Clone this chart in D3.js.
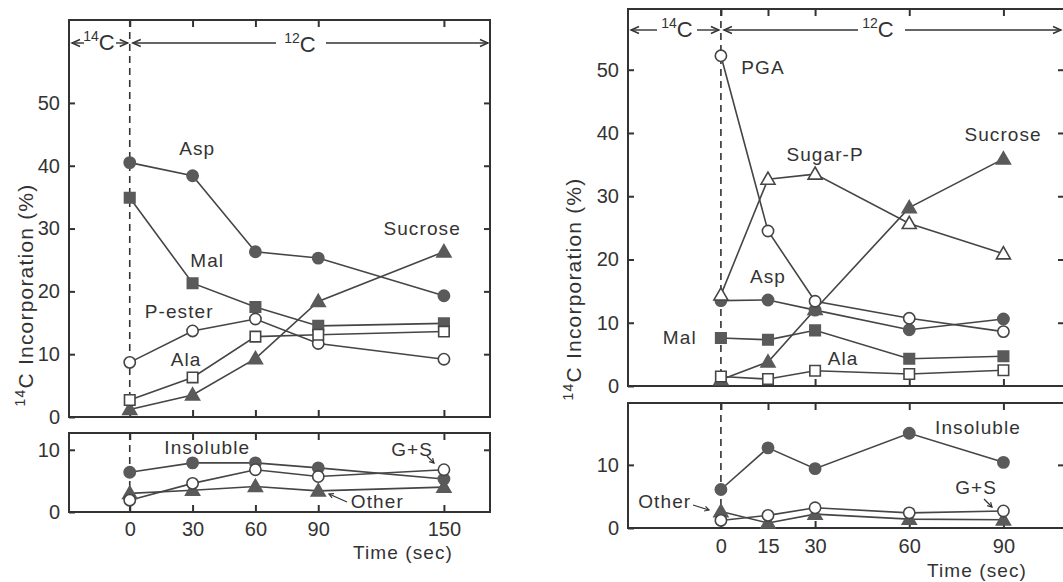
<!DOCTYPE html>
<html>
<head>
<meta charset="utf-8">
<script src="https://cdn.jsdelivr.net/npm/d3@7"></script>
<style>
  body { margin: 0; background: #fff; }
  svg { display: block; }
  text { font-family: "Liberation Sans", Arial, sans-serif; fill: #333; }
</style>
</head>
<body>
<svg id="chart" width="1063" height="582"></svg>
<script>
// ---------- Data ----------
const timesL = [0, 30, 60, 90, 150];
const aspL = [40.5, 38.4, 26.3, 25.3, 19.3];
const malL = [34.9, 21.3, 17.5, 14.5, 14.9];
const sucroseL = [1.2, 3.5, 9.3, 18.4, 26.3];
const pesterL = [8.7, 13.7, 15.6, 11.7, 9.2];
const alaL = [2.7, 6.3, 12.8, 13.1, 13.6];
const insolubleL = [6.4, 7.9, 7.9, 7.1, 5.3];
const gsL = [1.9, 4.6, 6.8, 5.7, 6.8];
const otherL = [3.0, 3.5, 4.1, 3.4, 4.0];

const timesR = [0, 15, 30, 60, 90];
const pgaR = [52.2, 24.5, 13.4, 10.7, 8.6];
const sugarPR = [14.4, 32.7, 33.5, 25.7, 20.9];
const sucroseR = [1.0, 3.8, 12.1, 28.2, 35.9];
const aspR = [13.5, 13.6, 12.0, 8.9, 10.6];
const malR = [7.6, 7.3, 8.8, 4.3, 4.7];
const alaR = [1.5, 1.1, 2.4, 1.9, 2.5];
const insolubleR = [6.1, 12.7, 9.4, 15.0, 10.4];
const gsR = [1.2, 2.0, 3.2, 2.4, 2.7];
const otherR = [2.6, 0.8, 2.2, 1.4, 1.3];

const yTicksTop = [0, 10, 20, 30, 40, 50];
const yTicksBottom = [0, 10];
const xLabel = "Time (sec)";
const yLabel = "Incorporation (%)";

// ---------- Drawing ----------
const svg = d3.select("#chart");
const LINE = "#454545", FILL = "#5a5a5a", FRAME = "#333";
const FONT = 19;

function symbolPath(kind) {
  if (kind === "circle") return d3.symbol(d3.symbolCircle, 100)();
  if (kind === "square") return d3.symbol(d3.symbolSquare, 110)();
  return d3.symbol(d3.symbolTriangle, 85)();
}

function drawSeries(g, x, y, times, vals, kind, filled) {
  const pts = times.map((t, i) => [t, vals[i]]);
  g.append("path")
    .datum(pts)
    .attr("fill", "none")
    .attr("stroke", LINE)
    .attr("stroke-width", 1.6)
    .attr("d", d3.line().x(d => x(d[0])).y(d => y(d[1])));
  return () => {
    g.selectAll(null).data(pts).enter().append("path")
      .attr("transform", d => `translate(${x(d[0])},${y(d[1]) + (kind === "triangle" ? 1 : 0)})`)
      .attr("d", symbolPath(kind))
      .attr("fill", filled ? FILL : "#fff")
      .attr("stroke", filled ? FILL : LINE)
      .attr("stroke-width", 1.6);
  };
}

function frameAxes(g, x, y, xTicks, yTicks, left, right, top, bottom, showX, xPad) {
  g.append("rect").attr("x", left).attr("y", top)
    .attr("width", right - left).attr("height", bottom - top)
    .attr("fill", "none").attr("stroke", FRAME).attr("stroke-width", 2);
  const ax = [];
  ax.push(g.append("g").attr("transform", `translate(${left},0)`)
    .call(d3.axisLeft(y).tickValues(yTicks).tickSize(-6).tickPadding(9)));
  ax.push(g.append("g").attr("transform", `translate(${right},0)`)
    .call(d3.axisRight(y).tickValues(yTicks.filter(v => v > 0)).tickSize(-6).tickFormat("")));
  ax.push(g.append("g").attr("transform", `translate(0,${top})`)
    .call(d3.axisTop(x).tickValues(xTicks).tickSize(-7).tickFormat("")));
  const b = g.append("g").attr("transform", `translate(0,${bottom})`)
    .call(d3.axisBottom(x).tickValues(xTicks).tickSize(-7).tickPadding(xPad));
  if (!showX) b.selectAll("text").remove();
  ax.push(b);
  ax.forEach(a => {
    a.select(".domain").remove();
    a.selectAll(".tick line").attr("stroke", FRAME).attr("stroke-width", 2);
    a.selectAll("text").attr("font-size", 20).attr("fill", "#333")
      .attr("font-family", "Liberation Sans, Arial, sans-serif");
  });
}

function dashed(g, x, y0, y1) {
  g.append("line").attr("x1", x).attr("x2", x).attr("y1", y0).attr("y2", y1)
    .attr("stroke", FRAME).attr("stroke-width", 1.6).attr("stroke-dasharray", "7,5");
}

function arrow(g, xFrom, xTip, y) {
  g.append("line").attr("x1", xFrom).attr("x2", xTip).attr("y1", y).attr("y2", y)
    .attr("stroke", FRAME).attr("stroke-width", 1.4);
  const dir = xTip > xFrom ? -1 : 1;
  g.append("path")
    .attr("d", `M${xTip + dir * 8},${y - 3.5} L${xTip},${y} L${xTip + dir * 8},${y + 3.5}`)
    .attr("fill", "none").attr("stroke", FRAME).attr("stroke-width", 1.4);
}

function isoLabel(g, xc, yBase, mass) {
  const t = g.append("text").attr("x", xc).attr("y", yBase).attr("text-anchor", "middle");
  t.append("tspan").attr("font-size", 14).attr("dy", -9).text(mass);
  t.append("tspan").attr("font-size", 22).attr("dy", 9).text("C");
}

function label(g, x, y, t, v, text) {
  g.append("text").attr("x", x(t)).attr("y", y(v)).attr("text-anchor", "middle")
    .attr("font-size", FONT).attr("letter-spacing", 1.1).text(text);
}

function smallArrow(g, x1, y1, x2, y2) {
  g.append("line").attr("x1", x1).attr("y1", y1).attr("x2", x2).attr("y2", y2)
    .attr("stroke", FRAME).attr("stroke-width", 1.2);
  const a = Math.atan2(y2 - y1, x2 - x1);
  const h = 5;
  g.append("path")
    .attr("d", `M${x2 - h * Math.cos(a - 0.5)},${y2 - h * Math.sin(a - 0.5)} L${x2},${y2} L${x2 - h * Math.cos(a + 0.5)},${y2 - h * Math.sin(a + 0.5)}`)
    .attr("fill", "none").attr("stroke", FRAME).attr("stroke-width", 1.2);
}

function yAxisLabel(g, cx, cy) {
  const t = g.append("text").attr("transform", `translate(${cx},${cy}) rotate(-90)`)
    .attr("text-anchor", "middle").attr("letter-spacing", 1.2);
  t.append("tspan").attr("font-size", 14).attr("dy", -8).text("14");
  t.append("tspan").attr("font-size", 21).attr("dy", 8).text("C " + yLabel);
}

// ===== Left panel =====
{
  const g = svg.append("g");
  const L = 69, R = 490, T1 = 20, B1 = 417, T2 = 433, B2 = 512;
  const x = d3.scaleLinear().domain([-29, 172]).range([L, R]);
  const yT = d3.scaleLinear().domain([0, 63.2]).range([B1, T1]);
  const yB = d3.scaleLinear().domain([0, 12.7]).range([B2, T2]);

  frameAxes(g, x, yT, timesL, yTicksTop, L, R, T1, B1, false, 9);
  frameAxes(g, x, yB, timesL, yTicksBottom, L, R, T2, B2, true, 9.5);
  dashed(g, x(0), T1, B1);
  dashed(g, x(0), T2, B2);

  const m = [];
  m.push(drawSeries(g, x, yT, timesL, aspL, "circle", true));
  m.push(drawSeries(g, x, yT, timesL, malL, "square", true));
  m.push(drawSeries(g, x, yT, timesL, sucroseL, "triangle", true));
  m.push(drawSeries(g, x, yT, timesL, pesterL, "circle", false));
  m.push(drawSeries(g, x, yT, timesL, alaL, "square", false));
  m.push(drawSeries(g, x, yB, timesL, insolubleL, "circle", true));
  m.push(drawSeries(g, x, yB, timesL, otherL, "triangle", true));
  m.push(drawSeries(g, x, yB, timesL, gsL, "circle", false));
  m.forEach(f => f());

  // header
  const yh = 43;
  arrow(g, 84, L + 3, yh);
  isoLabel(g, 99, 50, "14");
  arrow(g, 116, x(0) - 2, yh);
  arrow(g, 276, x(0) + 3, yh);
  isoLabel(g, 300, 52, "12");
  arrow(g, 326, R - 2, yh);

  label(g, x, yT, 32.2, 41.7, "Asp");
  label(g, x, yT, 139.6, 29.0, "Sucrose");
  label(g, x, yT, 37, 23.9, "Mal");
  label(g, x, yT, 23.6, 15.8, "P-ester");
  label(g, x, yT, 26.9, 8.1, "Ala");
  label(g, x, yB, 37, 9.35, "Insoluble");
  label(g, x, yB, 134.8, 9.0, "G+S");
  label(g, x, yB, 118.2, 0.65, "Other");
  smallArrow(g, 427, 456, 434, 463);
  smallArrow(g, 347, 502, 329, 494);

  g.append("text").attr("x", 403).attr("y", 559).attr("text-anchor", "middle")
    .attr("font-size", FONT).attr("letter-spacing", 1.1).text(xLabel);
  yAxisLabel(g, 33, 295);
}

// ===== Right panel =====
{
  const g = svg.append("g");
  const L = 628, R = 1064, T1 = 9, B1 = 386, T2 = 403, B2 = 528;
  const x = d3.scaleLinear().domain([-29.6, 109.3]).range([L, R]);
  const yT = d3.scaleLinear().domain([0, 59.6]).range([B1, T1]);
  const yB = d3.scaleLinear().domain([0, 19.8]).range([B2, T2]);

  frameAxes(g, x, yT, timesR, yTicksTop, L, R, T1, B1, false, 9);
  frameAxes(g, x, yB, timesR, yTicksBottom, L, R, T2, B2, true, 10.5);
  dashed(g, x(0), T1, B1);
  dashed(g, x(0), T2, B2);

  const m = [];
  m.push(drawSeries(g, x, yT, timesR, sucroseR, "triangle", true));
  m.push(drawSeries(g, x, yT, timesR, aspR, "circle", true));
  m.push(drawSeries(g, x, yT, timesR, malR, "square", true));
  m.push(drawSeries(g, x, yT, timesR, pgaR, "circle", false));
  m.push(drawSeries(g, x, yT, timesR, sugarPR, "triangle", false));
  m.push(drawSeries(g, x, yT, timesR, alaR, "square", false));
  m.push(drawSeries(g, x, yB, timesR, insolubleR, "circle", true));
  m.push(drawSeries(g, x, yB, timesR, otherR, "triangle", true));
  m.push(drawSeries(g, x, yB, timesR, gsR, "circle", false));
  m.forEach(f => f());

  const yh = 30;
  arrow(g, 657, L + 3, yh);
  isoLabel(g, 677, 37, "14");
  arrow(g, 697, x(0) - 2, yh);
  arrow(g, 858, x(0) + 3, yh);
  isoLabel(g, 878, 37, "12");
  arrow(g, 905, 1061, yh);

  label(g, x, yT, 13.4, 49.4, "PGA");
  label(g, x, yT, 33.2, 35.6, "Sugar-P");
  label(g, x, yT, 89.9, 38.8, "Sucrose");
  label(g, x, yT, 15, 16.3, "Asp");
  label(g, x, yT, -13.1, 6.6, "Mal");
  label(g, x, yT, 38.9, 3.3, "Ala");
  label(g, x, yB, 81.9, 14.9, "Insoluble");
  label(g, x, yB, 81.3, 5.4, "G+S");
  label(g, x, yB, -17.9, 3.2, "Other");
  smallArrow(g, 984, 499, 992, 507);
  smallArrow(g, 693, 505, 709, 510);

  g.append("text").attr("x", 977).attr("y", 577).attr("text-anchor", "middle")
    .attr("font-size", FONT).attr("letter-spacing", 1.1).text(xLabel);
  yAxisLabel(g, 581, 289);
}
</script>
</body>
</html>
